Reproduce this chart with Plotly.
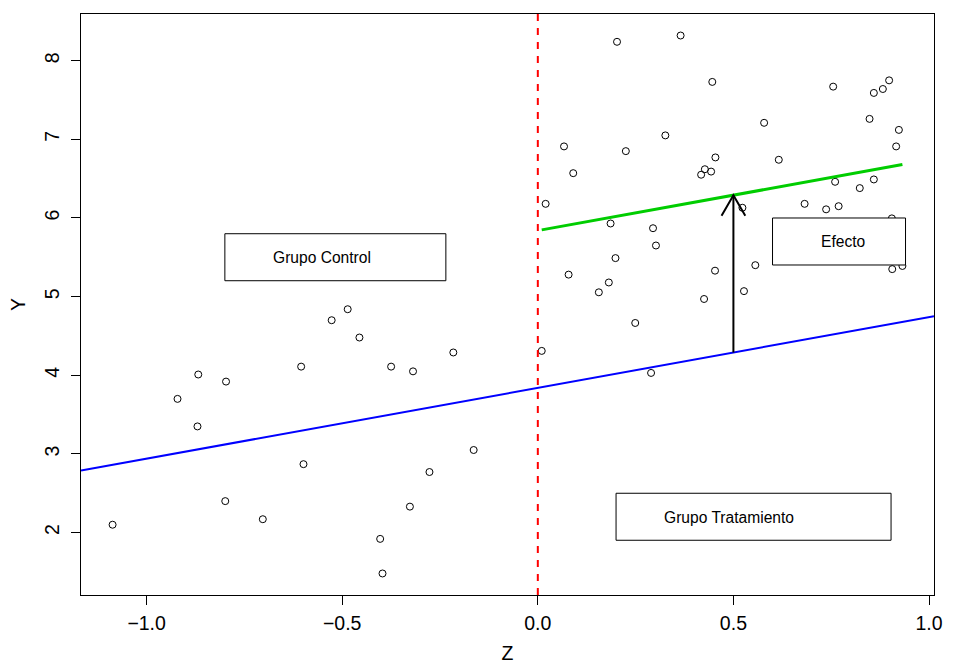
import plotly.graph_objects as go

# ---------------- data ----------------
z_control = [-1.087, -0.921, -0.868, -0.797, -0.870, -0.799, -0.703, -0.605, -0.599,
             -0.527, -0.486, -0.456, -0.375, -0.319, -0.216, -0.164, -0.277, -0.327,
             -0.403, -0.397]
y_control = [2.10, 3.70, 4.01, 3.92, 3.35, 2.40, 2.17, 4.11, 2.87,
             4.70, 4.84, 4.48, 4.11, 4.05, 4.29, 3.05, 2.77, 2.33,
             1.92, 1.48]

z_treat = [0.010, 0.2025, 0.365, 0.446, 0.755, 0.859, 0.882, 0.898, 0.848, 0.923,
           0.916, 0.5785, 0.326, 0.067, 0.225, 0.0905, 0.454, 0.427, 0.443, 0.4175,
           0.616, 0.020, 0.523, 0.682, 0.737, 0.769, 0.760, 0.823, 0.859, 0.905,
           0.186, 0.2945, 0.302, 0.1985, 0.0787, 0.1815, 0.156, 0.453, 0.425, 0.249,
           0.527, 0.556, 0.906, 0.932, 0.2895]
y_treat = [4.31, 8.24, 8.32, 7.73, 7.67, 7.59, 7.64, 7.75, 7.26, 7.12,
           6.91, 7.21, 7.05, 6.91, 6.85, 6.57, 6.77, 6.62, 6.59, 6.55,
           6.74, 6.18, 6.13, 6.18, 6.11, 6.15, 6.46, 6.38, 6.49, 5.995,
           5.93, 5.87, 5.65, 5.49, 5.28, 5.18, 5.055, 5.33, 4.97, 4.665,
           5.07, 5.40, 5.35, 5.39, 4.03]

intercept_control = 3.84
slope = 0.90
effect = 2.00
effect_at_z = 0.5

x_ticks = [-1.0, -0.5, 0.0, 0.5, 1.0]
x_tick_labels = ["\u22121.0", "\u22120.5", "0.0", "0.5", "1.0"]
y_ticks = [2, 3, 4, 5, 6, 7, 8]
y_tick_labels = ["2", "3", "4", "5", "6", "7", "8"]

labels = ["Grupo Control", "Grupo Tratamiento", "Efecto"]
label_anchor_x = [-0.8, 0.2, 0.6]
label_anchor_y = [5.8, 2.5, 6.0]
label_box_w = [221, 275, 133]

# ---------------- layout constants ----------------
W, H = 954, 671
ML, MR, MT, MB = 81, 11, 14, 69
all_z = z_control + z_treat
all_y = y_control + y_treat
zmin, zmax = min(all_z), max(all_z)
ymin, ymax = min(all_y), max(all_y)
xr = [zmin - 0.04 * (zmax - zmin), zmax + 0.04 * (zmax - zmin)]
yr = [ymin - 0.04 * (ymax - ymin), ymax + 0.04 * (ymax - ymin)]
px_per_x = (W - ML - MR) / (xr[1] - xr[0])
px_per_y = (H - MT - MB) / (yr[1] - yr[0])

FONT = "Liberation Sans, Arial, Helvetica, sans-serif"
AXIS_FS = 19.5
TEXT_FS = 15.6

fig = go.Figure()

# points
fig.add_trace(go.Scatter(
    x=all_z, y=all_y, mode="markers",
    marker=dict(symbol="circle-open", size=7, color="black", line=dict(width=1)),
    hoverinfo="skip", showlegend=False))

# control regression line across the whole plot
fig.add_trace(go.Scatter(
    x=xr, y=[intercept_control + slope * v for v in xr], mode="lines",
    line=dict(color="#0000FF", width=2), hoverinfo="skip", showlegend=False))

# treatment line over the treatment range
tz = [min(z_treat), max(z_treat)]
fig.add_trace(go.Scatter(
    x=tz, y=[intercept_control + effect + slope * v for v in tz], mode="lines",
    line=dict(color="#00CD00", width=3), hoverinfo="skip", showlegend=False))

# arrow (effect)
y0 = intercept_control + slope * effect_at_z
y1 = y0 + effect
head_len = 24.0
dzh = head_len * 0.5 / px_per_x
dyh = head_len * 0.866 / px_per_y
fig.add_trace(go.Scatter(
    x=[effect_at_z, effect_at_z, None, effect_at_z - dzh, effect_at_z, effect_at_z + dzh],
    y=[y0, y1, None, y1 - dyh, y1, y1 - dyh], mode="lines",
    line=dict(color="black", width=2), hoverinfo="skip", showlegend=False))

# vertical cutoff line
fig.add_vline(x=0, line=dict(color="#FF0000", width=2, dash="7px,7px"), layer="above")

# label boxes
for lab, ax_, ay_, bw in zip(labels, label_anchor_x, label_anchor_y, label_box_w):
    fig.add_shape(type="rect", xref="x", yref="y",
                  xsizemode="pixel", ysizemode="pixel",
                  xanchor=ax_, yanchor=ay_, x0=0, x1=bw, y0=0, y1=-47,
                  line=dict(color="black", width=1), fillcolor="white", layer="above")
    fig.add_annotation(x=ax_, y=ay_, xref="x", yref="y", text=lab, showarrow=False,
                       xanchor="left", yanchor="middle", xshift=46, yshift=-24,
                       font=dict(family=FONT, size=TEXT_FS, color="black"))

fig.update_layout(
    width=W, height=H,
    margin=dict(l=ML, r=MR, t=MT, b=MB, pad=0),
    paper_bgcolor="white", plot_bgcolor="white",
    font=dict(family=FONT, size=AXIS_FS, color="black"),
    showlegend=False,
)
fig.update_xaxes(
    range=xr, tickvals=x_ticks, ticktext=x_tick_labels,
    ticks="outside", ticklen=9, tickwidth=1, tickcolor="black",
    showline=True, linecolor="black", linewidth=1, mirror=True,
    showgrid=False, zeroline=False,
    title=dict(text="Z", standoff=12, font=dict(size=AXIS_FS)),
    tickfont=dict(size=AXIS_FS), ticklabelstandoff=2,
)
fig.update_yaxes(
    range=yr, tickvals=y_ticks, ticktext=y_tick_labels, tickangle=-90,
    ticks="outside", ticklen=9, tickwidth=1, tickcolor="black",
    showline=True, linecolor="black", linewidth=1, mirror=True,
    showgrid=False, zeroline=False,
    title=dict(text="Y", standoff=10, font=dict(size=AXIS_FS)),
    tickfont=dict(size=AXIS_FS), ticklabelstandoff=4,
)

fig.write_html("out.html", config={"displayModeBar": False},
               post_script="document.body.style.margin='0';document.body.style.overflow='hidden';")
